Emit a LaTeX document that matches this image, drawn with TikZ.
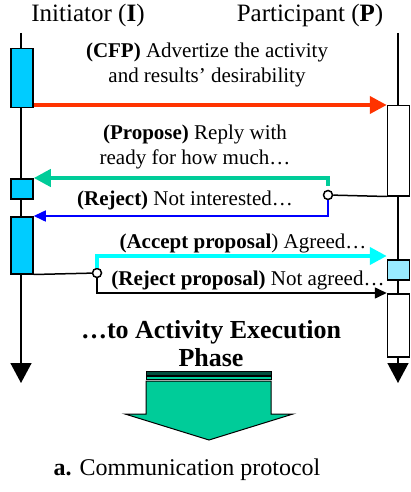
\documentclass[tikz,border=0pt]{standalone}
\usepackage{fontspec}
\setmainfont{Liberation Serif}
\usetikzlibrary{arrows.meta}
\definecolor{boxblue}{RGB}{0,204,255}
\definecolor{boxlight}{RGB}{153,235,255}
\definecolor{cfpred}{RGB}{255,51,0}
\definecolor{propgreen}{RGB}{0,204,153}
\definecolor{accyan}{RGB}{0,255,255}
\definecolor{bardark}{RGB}{0,77,60}
\begin{document}
\begin{tikzpicture}[x=1pt,y=-1pt,
  msg/.style={font=\fontsize{21}{25}\selectfont,align=center,inner sep=0pt},
  lane/.style={font=\fontsize{25}{28}\selectfont,inner sep=0pt},
  act/.style={draw,line width=1.5pt,minimum width=22pt,inner sep=0pt,anchor=north},
  life/.style={line width=1.5pt,-{Triangle[length=20pt,width=21pt]}},
  fat/.style={line width=4pt,-{Triangle[length=17pt,width=17pt]}},
  slim/.style={line width=1.5pt,-{Triangle[length=12pt,width=11pt]}},
  knot/.style={circle,draw,fill=white,line width=1.5pt,minimum size=9pt,inner sep=0pt}]
  \useasboundingbox (0,0) rectangle (411,492);
  % lifelines
  \coordinate (itop) at (21,33); \coordinate (ibot) at (21,383);
  \coordinate (ptop) at (398,33); \coordinate (pbot) at (398,383);
  \draw[life] (itop) -- (ibot);
  \draw[life] (ptop) -- (pbot);
  \node[lane] (ini) at (88,15) {Initiator (\textbf{I})};
  \node[lane] (par) at (310,15) {Participant (\textbf{P})};
  % activation boxes
  \node[act,fill=boxblue,minimum height=59pt] (i1) at (22,48) {};
  \node[act,fill=boxblue,minimum height=20pt] (i2) at (22,178) {};
  \node[act,fill=boxblue,minimum height=57pt] (i3) at (22,216) {};
  \node[act,fill=white,minimum height=90pt] (p1) at (398.5,105) {};
  \node[act,fill=boxlight,minimum height=20pt] (p2) at (398.5,259) {};
  \node[act,fill=white,minimum height=63pt] (p3) at (398.5,293) {};
  % call for proposals
  \draw[fat,cfpred] (i1.east |- p1.north) -- (p1.north west);
  \node[msg] (cfp) at (207,65) {\textbf{(CFP)} Advertize the activity\\and results’ desirability};
  % propose or reject
  \node[knot] (k1) at (328,195) {};
  \draw[line width=1.5pt] (k1) -- (p1.south west);
  \draw[fat,propgreen] ([yshift=4pt]k1.north) |- (i2.north east);
  \draw[slim,blue] (k1.south) |- (i3.north east);
  \node[msg] (prop) at (195,147) {\textbf{(Propose)} Reply with\\ready for how much…};
  \node[msg] (rej) at (185,200) {\textbf{(Reject)} Not interested…};
  % accept or reject proposal
  \node[knot] (k2) at (97,273) {};
  \draw[line width=1.5pt] (i3.south east) -- (k2);
  \draw[fat,accyan] (k2.north) |- ([yshift=3pt]p2.north west);
  \draw[slim] (k2.south) |- (p3.north west);
  \node[msg] (acc) at (243,243) {\textbf{(Accept proposal}) Agreed…};
  \node[msg] (rejp) at (248,280) {\textbf{(Reject proposal)} Not agreed…};
  % next phase
  \node[font=\bfseries\fontsize{26}{28}\selectfont,align=center,inner sep=0pt] (next) at (211,344) {…to Activity Execution\\Phase};
  \fill[bardark,draw=black] (146,371) rectangle (271,375);
  \draw[fill=propgreen] (146,376) rectangle (271,379);
  \draw[fill=propgreen,line width=1pt] (146,381) -- (271,381) -- (271,414) -- (293,414)
    -- (209,440) -- (125,414) -- (146,414) -- cycle;
  % caption
  \node[lane,font=\fontsize{24}{28}\selectfont] (cap) at (187,470) {\textbf{a.} Communication protocol};
\end{tikzpicture}
\end{document}
